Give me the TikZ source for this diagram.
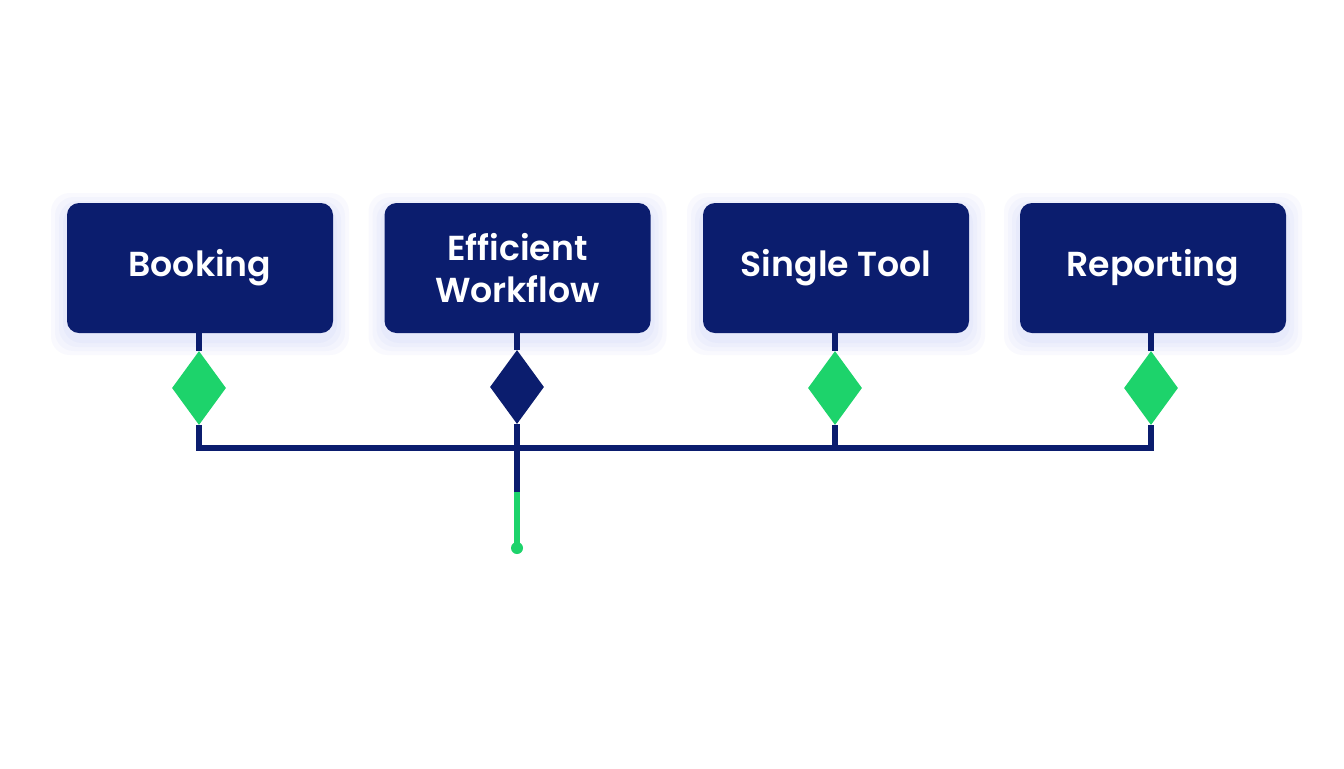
\documentclass[tikz,border=0pt]{standalone}
\usepackage{fontspec}
\setmainfont{Poppins}[BoldFont={Poppins SemiBold}]
\usetikzlibrary{shapes.geometric}

\definecolor{navy}{RGB}{11,29,110}
\definecolor{mint}{RGB}{29,211,107}
\definecolor{haze}{RGB}{90,110,230}

\tikzset{
  card/.style={fill=navy, rounded corners=9pt, minimum width=199.5pt, minimum height=97.5pt,
    text=white, font=\bfseries\fontsize{26}{32}\selectfont, align=center},
  glow/.style={fill=haze, fill opacity=0.035, rounded corners=14pt},
  gem/.style={diamond, fill=#1, draw=none, inner sep=0pt, minimum width=40.5pt, minimum height=55.5pt},
  wire/.style={navy, line width=3.8pt}
}

\begin{document}
\begin{tikzpicture}[x=0.75pt, y=-0.75pt]
      \useasboundingbox[fill=white] (0,0) rectangle (1344,768);

      \foreach \cx in {200,517.5,836,1153}
        \foreach \g in {4,8,12,16}
          \path[glow] (\cx-133-\g,203-\g+6) rectangle (\cx+133+\g,333+\g+6);

      \node[card] (booking)  at (200,268)  {Booking};
      \node[card] (workflow) at (517.5,268) {Efficient\\Workflow};
      \node[card] (tool)     at (836,268)  {Single Tool};
      \node[card] (report)   at (1153,268) {Reporting};

      \node[gem=mint] (gbooking)  at (199,388) {};
      \node[gem=navy] (gworkflow) at (517,387) {};
      \node[gem=mint] (gtool)     at (835,388) {};
      \node[gem=mint] (greport)   at (1151,388) {};

      \coordinate (busleft)  at (199,448);
      \coordinate (busright) at (1151,448);
      \coordinate (drop) at (517,492);
      \coordinate (tip)  at (517,548);

      \draw[wire] (booking.south -| gbooking) -- (gbooking.north);
      \draw[wire] (workflow.south -| gworkflow) -- (gworkflow.north);
      \draw[wire] (tool.south -| gtool) -- (gtool.north);
      \draw[wire] (report.south -| greport) -- (greport.north);

      \draw[wire, line join=miter] (gbooking.south) -- (busleft) -- (busright) -- (greport.south);
      \draw[wire] (gtool.south) -- (gtool |- busleft);
      \draw[wire] (gworkflow.south) -- (drop);
      \draw[mint, line width=3.8pt] (drop) -- (tip);
      \fill[mint] (tip) circle (4.5pt);

    \end{tikzpicture}
\end{document}
